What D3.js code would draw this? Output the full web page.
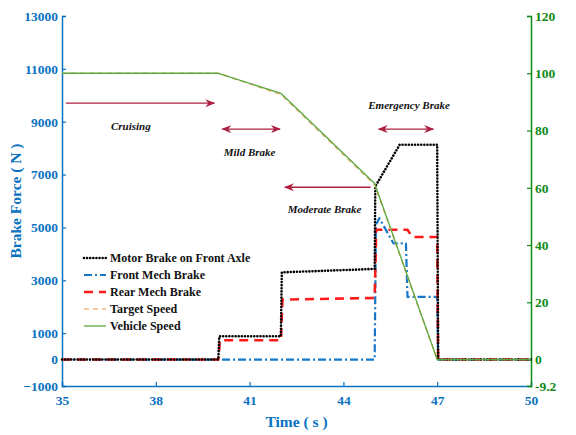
<!DOCTYPE html>
<html><head><meta charset="utf-8">
<script src="https://cdn.jsdelivr.net/npm/d3@7"></script>
<style>
html,body{margin:0;padding:0;background:#fff;}
svg text{font-family:"Liberation Serif","Times New Roman",serif;}
</style></head>
<body>
<svg id="chart" width="576" height="435"></svg>
<script>
// ---- data ----
const motorT = [35, 40, 40.03, 42, 42.03, 45, 45.02, 45.8, 47, 47.03, 50];
const motorF = [0, 0, 880, 880, 3300, 3430, 6550, 8130, 8130, 0, 0];

const frontT = [35, 45, 45.04, 45.15, 45.6, 46.0, 46.05, 47, 47.03, 50];
const frontF = [0, 0, 5100, 5350, 4400, 4400, 2370, 2370, 0, 0];

const rearT = [35, 40, 40.05, 42, 42.05, 45, 45.05, 46.05, 46.2, 47, 47.03, 50];
const rearF = [0, 0, 730, 730, 2270, 2330, 4910, 4910, 4640, 4640, 0, 0];

const targetT = [35, 40, 42, 45, 47, 50];
const targetV = [100, 100, 92.6, 61, 0, 0];

const vehicleT = [35, 40, 42, 45, 47, 50];
const vehicleV = [100, 100, 93, 61.5, 0, 0];

const xTicks = [35, 38, 41, 44, 47, 50];
const yLeftTicks = [-1000, 0, 1000, 3000, 5000, 7000, 9000, 11000, 13000];
const yRightTicks = [-9.2, 0, 20, 40, 60, 80, 100, 120];

const legendLabels = ["Motor Brake on Front Axle", "Front Mech Brake", "Rear Mech Brake", "Target Speed", "Vehicle Speed"];

const phaseNames = ["Cruising", "Mild Brake", "Moderate Brake", "Emergency Brake"];
const phaseStart = [35, 40, 42, 45];
const phaseEnd = [40, 42.1, 45, 47];
const phaseArrowY = [9700, 8720, 6520, 8720];
const phaseTextY = [8700, 7720, 5530, 9500];
const phaseTextX = [37.2, 41.0, 43.4, 46.1];
const phaseHeads = ["end", "both", "start", "both"];

// ---- layout ----
const W = 576, H = 435;
const m = {l: 62, r: 45, t: 16, b: 49};
const svg = d3.select("#chart");
const BLUE = "#0a72c0", GREEN = "#0f8a17", ARROW = "#ac2140";

const x = d3.scaleLinear().domain([35, 50]).range([m.l, W - m.r]);
const yL = d3.scaleLinear().domain([-1000, 13000]).range([H - m.b, m.t]);
const yR = d3.scaleLinear().domain([-1000 * 120 / 13000, 120]).range([H - m.b, m.t]);

// defs: arrowheads
const defs = svg.append("defs");
function marker(id, orient) {
  defs.append("marker").attr("id", id).attr("viewBox", "0 0 10 10")
    .attr("refX", 9).attr("refY", 5).attr("markerWidth", 10).attr("markerHeight", 10)
    .attr("markerUnits", "userSpaceOnUse").attr("orient", orient)
    .append("path").attr("d", "M0,1 L10,5 L0,9 L3,5 Z").attr("fill", ARROW);
}
marker("ah", "auto");
marker("ahs", "auto-start-reverse");

// ---- axes ----
const gx = svg.append("g").attr("transform", `translate(0,${H - m.b})`)
  .call(d3.axisBottom(x).tickValues(xTicks).tickSize(-4).tickPadding(9).tickFormat(d3.format("d")));
gx.select(".domain").attr("stroke", BLUE).attr("stroke-width", 1.5);
gx.selectAll(".tick line").attr("stroke", BLUE).attr("stroke-width", 1.2);
gx.selectAll(".tick text").attr("fill", BLUE).attr("font-size", 13.5).attr("font-weight", "bold")
  .attr("font-family", "Liberation Serif");

const gl = svg.append("g").attr("transform", `translate(${m.l},0)`)
  .call(d3.axisLeft(yL).tickValues(yLeftTicks).tickSize(-4).tickPadding(4).tickFormat(d3.format("d")));
gl.select(".domain").attr("stroke", BLUE).attr("stroke-width", 1.5);
gl.selectAll(".tick line").attr("stroke", BLUE).attr("stroke-width", 1.2);
gl.selectAll(".tick text").attr("fill", BLUE).attr("font-size", 13.5).attr("font-weight", "bold")
  .attr("font-family", "Liberation Serif");

const gr = svg.append("g").attr("transform", `translate(${W - m.r},0)`)
  .call(d3.axisRight(yR).tickValues(yRightTicks).tickSize(-4).tickPadding(4).tickFormat(d => d === -9.2 ? "-9.2" : d3.format("d")(d)));
gr.select(".domain").attr("stroke", GREEN).attr("stroke-width", 1.5);
gr.selectAll(".tick line").attr("stroke", GREEN).attr("stroke-width", 1.2);
gr.selectAll(".tick text").attr("fill", GREEN).attr("font-size", 13.5).attr("font-weight", "bold")
  .attr("font-family", "Liberation Serif");

// axis labels
svg.append("text").attr("x", (m.l + W - m.r) / 2).attr("y", 427)
  .attr("text-anchor", "middle").attr("fill", BLUE).attr("font-size", 15.5).attr("font-weight", "bold")
  .text("Time ( s )");
svg.append("text").attr("transform", `translate(21,${(m.t + H - m.b) / 2}) rotate(-90)`)
  .attr("text-anchor", "middle").attr("fill", BLUE).attr("font-size", 15.5).attr("font-weight", "bold")
  .text("Brake Force ( N )");

// ---- lines ----
const lineL = (ts, vs) => d3.line().x((d, i) => x(ts[i])).y((d, i) => yL(vs[i]))(vs);
const lineR = (ts, vs) => d3.line().x((d, i) => x(ts[i])).y((d, i) => yR(vs[i]))(vs);

const styles = [
  {stroke: "#000", w: 2.6, dash: "0.01 3.1", cap: "round"},
  {stroke: "#1677c8", w: 2.2, dash: "8 3 2 3", cap: "butt"},
  {stroke: "#ff1a1a", w: 2.6, dash: "9 6", cap: "butt"},
  {stroke: "#f2b57a", w: 1.6, dash: "5 4", cap: "butt"},
  {stroke: "#5aa93e", w: 1.3, dash: null, cap: "butt"}
];

const plot = svg.append("g");
const paths = [
  lineL(frontT, frontF),
  lineL(rearT, rearF),
  lineL(motorT, motorF),
  lineR(targetT, targetV),
  lineR(vehicleT, vehicleV)
];
const styleIdx = [1, 2, 0, 3, 4];
paths.forEach((d, k) => {
  const s = styles[styleIdx[k]];
  plot.append("path").attr("d", d).attr("fill", "none").attr("stroke", s.stroke)
    .attr("stroke-width", s.w).attr("stroke-dasharray", s.dash).attr("stroke-linecap", s.cap)
    .attr("stroke-linejoin", "round");
});

// ---- phase annotations ----
phaseNames.forEach((name, i) => {
  const ln = svg.append("line").attr("x1", x(phaseStart[i]) + 4).attr("x2", x(phaseEnd[i]) - 4)
    .attr("y1", yL(phaseArrowY[i])).attr("y2", yL(phaseArrowY[i]))
    .attr("stroke", ARROW).attr("stroke-width", 1.3);
  if (phaseHeads[i] === "end" || phaseHeads[i] === "both") ln.attr("marker-end", "url(#ah)");
  if (phaseHeads[i] === "start" || phaseHeads[i] === "both") ln.attr("marker-start", "url(#ahs)");
  svg.append("text").attr("x", x(phaseTextX[i])).attr("y", yL(phaseTextY[i]))
    .attr("text-anchor", "middle").attr("font-size", 11)
    .attr("font-style", "italic").attr("font-weight", "bold").attr("fill", "#111").text(name);
});

// ---- legend ----
const lg = svg.append("g");
const legY = [258, 275, 292, 309, 326];
legendLabels.forEach((lab, i) => {
  const s = styles[i];
  lg.append("line").attr("x1", 84).attr("x2", 106).attr("y1", legY[i]).attr("y2", legY[i])
    .attr("stroke", s.stroke).attr("stroke-width", s.w).attr("stroke-dasharray", s.dash)
    .attr("stroke-linecap", s.cap);
  lg.append("text").attr("x", 110).attr("y", legY[i]).attr("dy", "0.35em")
    .attr("font-size", 12).attr("font-weight", "bold").attr("fill", "#111").text(lab);
});
</script>
</body></html>
